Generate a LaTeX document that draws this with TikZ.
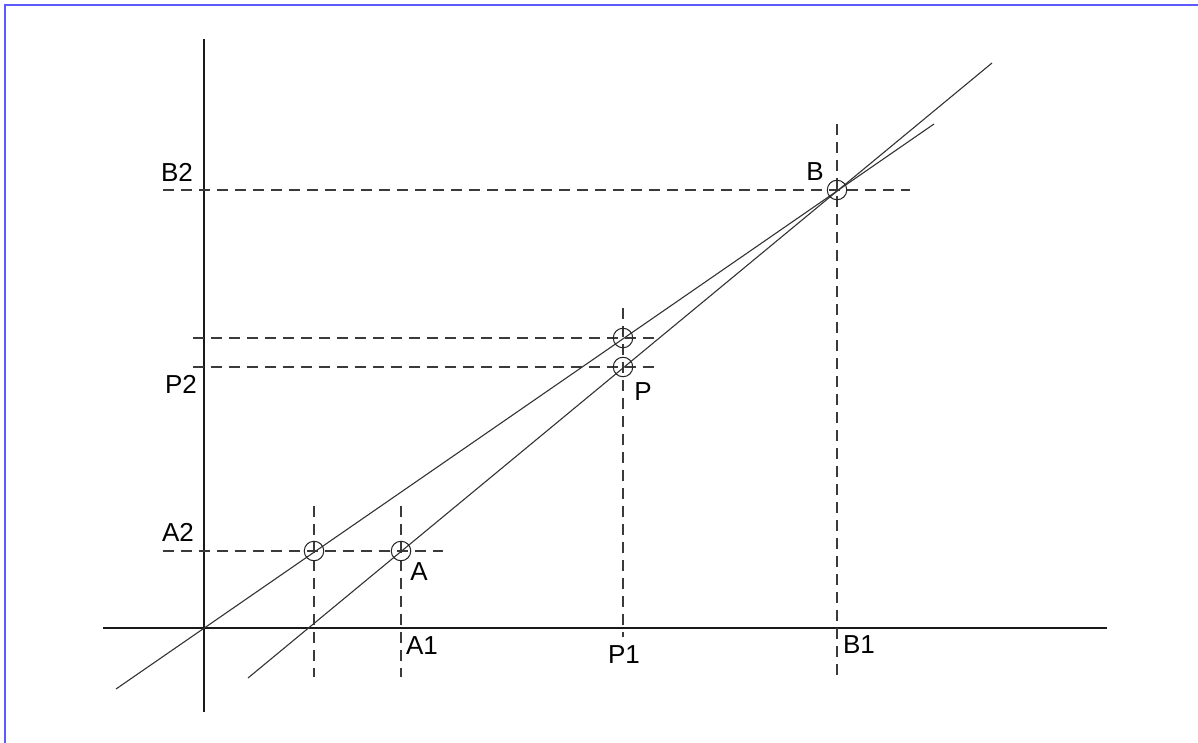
\documentclass[tikz,border=0pt]{standalone}
\usepackage{fontspec}
\setmainfont{Liberation Sans}
\definecolor{frameblue}{HTML}{5A5AFF}
\definecolor{dashgray}{HTML}{3A3A3A}
\begin{document}
\begin{tikzpicture}[x=1pt,y=-1pt,
  axisline/.style={line width=1.5pt,black!90},
  thinline/.style={line width=1.1pt,black!80},
  guide/.style={line width=1.4pt,dashgray,dash pattern=on 11pt off 7pt},
  ring/.style={circle,draw,black!85,line width=1pt,minimum size=19.5pt,inner sep=0pt},
  lbl/.style={inner sep=0pt,font=\fontsize{26}{26}\selectfont}]
\useasboundingbox (0,0) rectangle (1198,743);
\fill[white] (0,0) rectangle (1198,743);
% frame (top and left)
\draw[frameblue,line width=2pt] (1198,5.5) -- (4.5,5.5) -- (4.5,743);
% axes
\coordinate (yt) at (204,39); \coordinate (yb) at (204,712);
\coordinate (xl) at (103,628); \coordinate (xr) at (1107,628);
\draw[axisline] (yt) -- (yb);
\draw[axisline] (xl) -- (xr);
% guide end points
\coordinate (a2l) at (163,551); \coordinate (a2r) at (443,551);
\coordinate (v1t) at (314,506); \coordinate (v1b) at (314,677);
\coordinate (v2t) at (401,506); \coordinate (v2b) at (401,677);
\coordinate (qt) at (623,308); \coordinate (qb) at (623,637);
\coordinate (q2l) at (193,338); \coordinate (q2r) at (657,338);
\coordinate (p2l) at (193,367); \coordinate (p2r) at (657,367);
\coordinate (b2l) at (163,190); \coordinate (b2r) at (910,190);
\coordinate (bt) at (837,124); \coordinate (bb) at (837,677);
\draw[guide] (a2l) -- (a2r);
\draw[guide] (v1t) -- (v1b);
\draw[guide] (v2t) -- (v2b);
\draw[guide] (qt) -- (qb);
\draw[guide] (q2l) -- (q2r);
\draw[guide] (p2l) -- (p2r);
\draw[guide] (b2l) -- (b2r);
\draw[guide] (bt) -- (bb);
% oblique lines
\coordinate (l1s) at (248,678); \coordinate (l1e) at (992,63);
\coordinate (l2s) at (116,689); \coordinate (l2e) at (934,124);
\draw[thinline] (l1s) -- (l1e);
\draw[thinline] (l2s) -- (l2e);
% circles
\node[ring] (cA2) at (314,551) {};
\node[ring] (cA) at (401,551) {};
\node[ring] (cQ) at (623,338) {};
\node[ring] (cP) at (623,367) {};
\node[ring] (cB) at (837,190) {};
% labels
\node[lbl] (tB2) at (177,172) {B2};
\node[lbl] (tB) at (815,172) {B};
\node[lbl] (tP2) at (181,384) {P2};
\node[lbl] (tP) at (643,392) {P};
\node[lbl] (tA2) at (178,532) {A2};
\node[lbl] (tA) at (419,572) {A};
\node[lbl] (tA1) at (422,646) {A1};
\node[lbl] (tP1) at (624,655) {P1};
\node[lbl] (tB1) at (859,645) {B1};
\end{tikzpicture}
\end{document}
